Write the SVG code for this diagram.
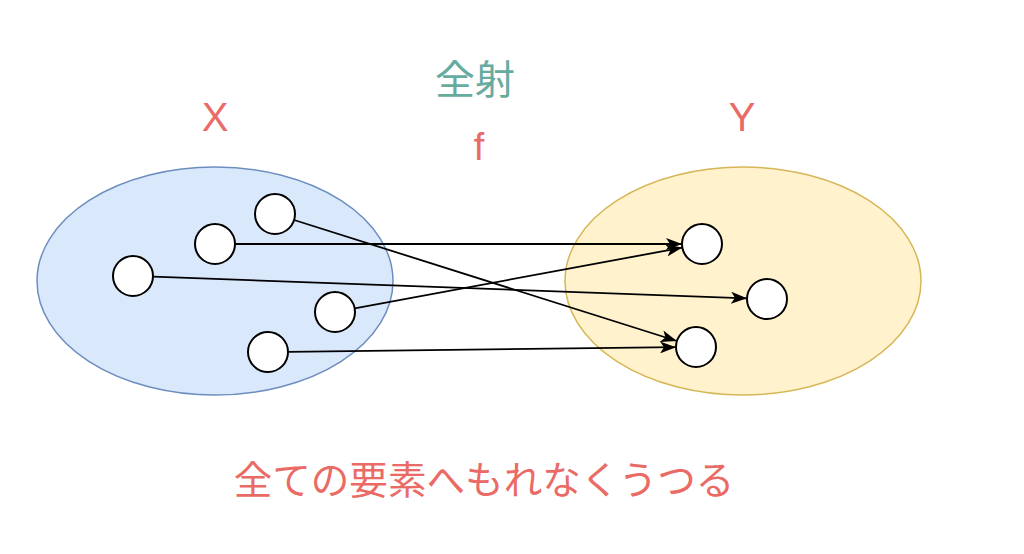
<svg xmlns="http://www.w3.org/2000/svg" width="1024" height="554" viewBox="0 0 1024 554">
<style>
.set-x{fill:#dae8fc;stroke:#6c8ebf;stroke-width:1.5}
.set-y{fill:#fff2cc;stroke:#d6b656;stroke-width:1.5}
.pt{fill:#ffffff;stroke:#000000;stroke-width:2}
.edge{fill:none;stroke:#000000;stroke-width:1.8;marker-end:url(#arr)}
.lbl{font-family:"Liberation Sans","Noto Sans CJK JP",sans-serif;text-anchor:middle}
.red{fill:#ea6b66}
.teal{fill:#67ab9f}
</style>
<defs>
<marker id="arr" markerUnits="userSpaceOnUse" markerWidth="16" markerHeight="12" viewBox="0 0 16 12" refX="16" refY="6" orient="auto">
<path d="M0,0 L16,6 L0,12 L4,6 Z" fill="#000"/>
</marker>
</defs>
<rect width="1024" height="554" fill="#ffffff"/>
<g id="setX"><ellipse class="set-x" cx="215" cy="281" rx="178" ry="114"/></g>
<g id="setY"><ellipse class="set-y" cx="743" cy="281" rx="178" ry="114"/></g>
<g id="connectors">
<path class="edge" d="M294.1,220 L676.9,341"/>
<path class="edge" d="M235,244 L682,244"/>
<path class="edge" d="M153,276.7 L747,298.3"/>
<path class="edge" d="M354.7,308.4 L682.3,247.6"/>
<path class="edge" d="M288,351.8 L676,347.2"/>
</g>
<g id="x1"><circle class="pt" cx="275" cy="214" r="20"/></g>
<g id="x2"><circle class="pt" cx="215" cy="244" r="20"/></g>
<g id="x3"><circle class="pt" cx="133" cy="276" r="20"/></g>
<g id="x4"><circle class="pt" cx="335" cy="312" r="20"/></g>
<g id="x5"><circle class="pt" cx="268" cy="352" r="20"/></g>
<g id="y1"><circle class="pt" cx="702" cy="244" r="20"/></g>
<g id="y2"><circle class="pt" cx="767" cy="299" r="20"/></g>
<g id="y3"><circle class="pt" cx="696" cy="347" r="20"/></g>
<g id="label-surj"><text class="lbl teal" x="475" y="94" font-size="40">全射</text></g>
<g id="label-X"><text class="lbl red" x="215" y="131" font-size="40">X</text></g>
<g id="label-Y"><text class="lbl red" x="742" y="131" font-size="40">Y</text></g>
<g id="label-f"><text class="lbl red" x="479" y="160" font-size="38">f</text></g>
<g id="label-bottom"><text class="lbl red" x="484" y="494" font-size="38.6">全ての要素へもれなくうつる</text></g>
</svg>
